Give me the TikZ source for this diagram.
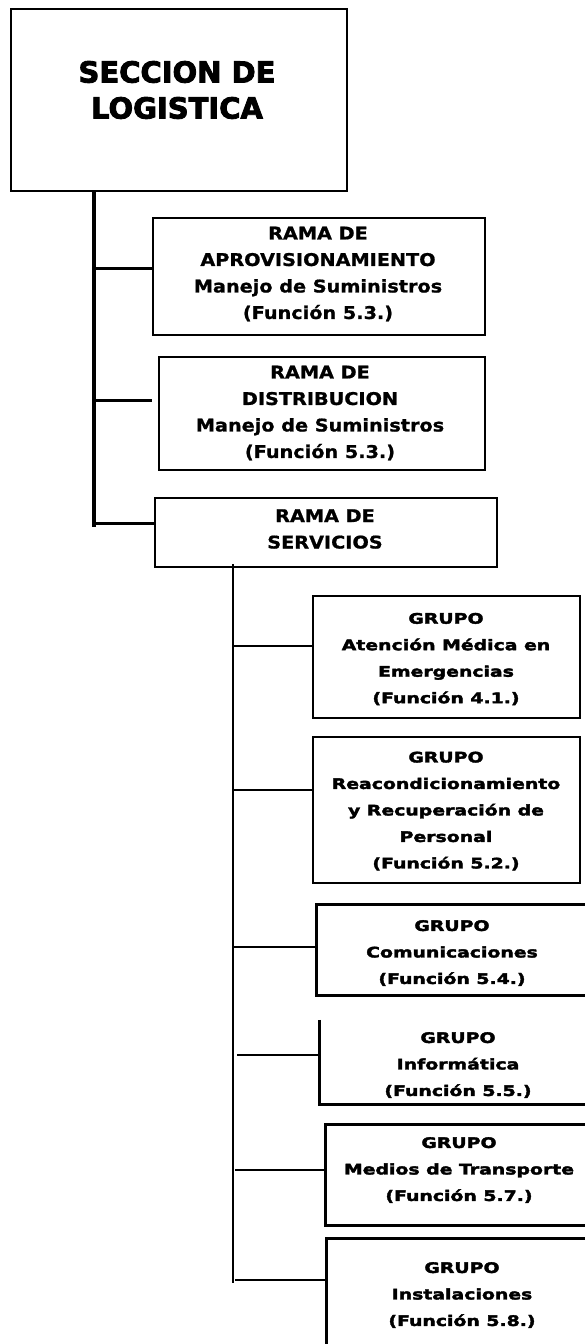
\documentclass[tikz,border=0pt]{standalone}
\usepackage{fontspec}
\newfontfamily\titlefont[FakeBold=3]{DejaVu Sans Bold}
\newfontfamily\ramafont[FakeStretch=1.1,FakeBold=1]{DejaVu Sans Bold}
\newfontfamily\grpfont[FakeStretch=1.3,FakeBold=2.5]{DejaVu Sans Bold}
\begin{document}
\begin{tikzpicture}[x=1pt,y=-1pt,
  boxframe/.style={draw, line width=2.4pt, inner sep=0pt, rectangle},
  openframe/.style={draw=none, inner sep=0pt, rectangle},
  titletext/.style={align=center, inner sep=0pt, font=\titlefont\fontsize{29}{36}\selectfont},
  ramatext/.style={align=center, inner sep=0pt, font=\ramafont\fontsize{17.5}{26.5}\selectfont},
  grptext/.style={align=center, inner sep=0pt, font=\grpfont\fontsize{14.5}{26.5}\selectfont},
  trunk/.style={line width=4pt},
  branch/.style={line width=3pt},
  strunk/.style={line width=2.6pt},
  sbranch/.style={line width=2.6pt},
  edge/.style={line width=2.8pt}]
\useasboundingbox (0,0) rectangle (585,1344);
\fill[white] (0,0) rectangle (585,1344);

% boxes
\node[boxframe, line width=2.8pt, minimum width=336pt, minimum height=182pt] (sec) at (179,100) {};
\node[boxframe, minimum width=332pt, minimum height=117pt] (apr) at (319,276.5) {};
\node[boxframe, minimum width=326pt, minimum height=113pt] (dis) at (322,413.5) {};
\node[boxframe, line width=2pt, minimum width=342pt, minimum height=69pt] (ser) at (326,532.5) {};
\node[boxframe, line width=2.8pt, minimum width=267pt, minimum height=122pt] (g1) at (446.5,657) {};
\node[boxframe, line width=2.8pt, minimum width=267pt, minimum height=146pt] (g2) at (446.5,810) {};
\node[openframe, minimum width=283pt, minimum height=90pt] (g3) at (458.5,950) {};
\node[openframe, minimum width=280pt, minimum height=84pt] (g4) at (460,1062) {};
\node[openframe, minimum width=274pt, minimum height=100pt] (g5) at (463,1175) {};
\node[openframe, minimum width=273pt, minimum height=121pt] (g6) at (463.5,1299.5) {};

\draw[edge] (g3.north east) -- (g3.north west) -- (g3.south west) -- (g3.south east);
\draw[edge] (g4.north west) -- (g4.south west) -- (g4.south east);
\draw[edge] (g5.north east) -- (g5.north west) -- (g5.south west) -- (g5.south east);
\draw[edge] (g6.south west) -- (g6.north west) -- (g6.north east);

% texts
\node[titletext] (t0) at (177,90) {SECCION DE\\LOGISTICA};
\node[ramatext] (ta) at (318,274) {RAMA DE\\APROVISIONAMIENTO\\Manejo de Suministros\\(Función 5.3.)};
\node[ramatext] (td) at (320,413) {RAMA DE\\DISTRIBUCION\\Manejo de Suministros\\(Función 5.3.)};
\node[ramatext] (ts) at (325,529) {RAMA DE\\SERVICIOS};
\node[grptext] (t1) at (446,659) {GRUPO\\Atención Médica en\\Emergencias\\(Función 4.1.)};
\node[grptext] (t2) at (446,811) {GRUPO\\Reacondicionamiento\\y Recuperación de\\Personal\\(Función 5.2.)};
\node[grptext] (t3) at (452,953) {GRUPO\\Comunicaciones\\(Función 5.4.)};
\node[grptext] (t4) at (458,1065) {GRUPO\\Informática\\(Función 5.5.)};
\node[grptext] (t5) at (459,1170) {GRUPO\\Medios de Transporte\\(Función 5.7.)};
\node[grptext] (t6) at (462,1295) {GRUPO\\Instalaciones\\(Función 5.8.)};

% main trunk
\coordinate (m0) at (sec.south -| 94,0);
\coordinate (m1) at (94,527);
\coordinate (jA) at (94,268);
\coordinate (jB) at (96,400);
\coordinate (jC) at (94,523);
\draw[trunk] (m0) -- (m1);
\draw[branch] (jA) -- (jA -| apr.west);
\draw[branch, shorten >=6pt] (jB) -- (jB -| dis.west);
\draw[branch] (jC) -- (jC -| ser.west);

% services trunk
\coordinate (s0) at (ser.south -| 233,0);
\coordinate (s1) at (233,1283);
\coordinate (sA) at (233,646);
\coordinate (sB) at (233,790);
\coordinate (sC) at (233,947);
\coordinate (sD) at (237,1055);
\coordinate (sE) at (235,1170);
\coordinate (sF) at (235,1280);
\draw[strunk] ([yshift=4pt]s0) -- (s1);
\draw[sbranch] (sA) -- (sA -| g1.west);
\draw[sbranch] (sB) -- (sB -| g2.west);
\draw[sbranch] (sC) -- (sC -| g3.west);
\draw[sbranch] (sD) -- (sD -| g4.west);
\draw[sbranch] (sE) -- (sE -| g5.west);
\draw[sbranch] (sF) -- (sF -| g6.west);
\end{tikzpicture}
\end{document}
